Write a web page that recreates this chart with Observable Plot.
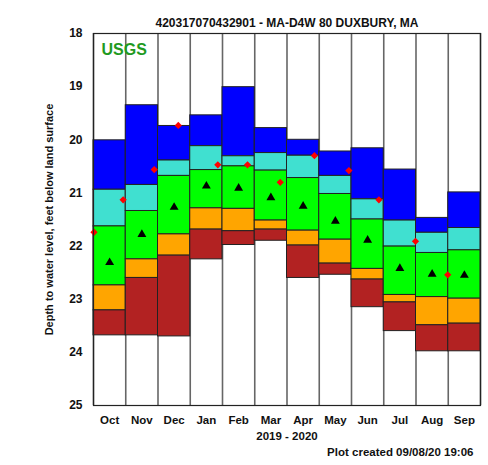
<!DOCTYPE html>
<html>
<head>
<meta charset="utf-8">
<script src="https://cdn.jsdelivr.net/npm/d3@7"></script>
<script src="https://cdn.jsdelivr.net/npm/@observablehq/plot@0.6"></script>
<style>
  html, body { margin: 0; padding: 0; background: #fff; }
  #chart svg { display: block; }
</style>
</head>
<body>
<div id="chart"></div>
<script>
// ---- Data (depth to water level, feet below land surface) ----
const months = ["Oct","Nov","Dec","Jan","Feb","Mar","Apr","May","Jun","Jul","Aug","Sep"];
// highest water level of record (shallowest depth) - top of blue
const highest = [20.01,19.35,19.74,19.54,19.01,19.78,20.00,20.22,20.16,20.56,21.47,20.99];
const pct90   = [20.94,20.85,20.39,20.12,20.31,20.25,20.30,20.68,21.12,21.52,21.75,21.66];
const pct75   = [21.63,21.34,20.68,20.57,20.50,20.58,20.72,21.02,21.50,22.01,22.13,22.08];
const pct25   = [22.74,22.25,21.78,21.29,21.30,21.52,21.71,21.88,22.43,22.92,22.96,22.99];
const pct10   = [23.21,22.60,22.18,21.69,21.72,21.69,21.99,22.33,22.63,23.06,23.49,23.46];
// lowest water level of record (deepest depth) - bottom of red
const lowest  = [23.68,23.68,23.70,22.25,21.98,21.90,22.60,22.54,23.15,23.60,23.98,23.98];
const medians = [22.31,21.78,21.27,20.87,20.91,21.09,21.25,21.53,21.89,22.42,22.53,22.55];

// measurements for water year 2019 - 2020
const measureDates  = ["2019-10-01","2019-10-29","2019-11-27","2019-12-20","2020-01-27","2020-02-23",
                       "2020-03-25","2020-04-26","2020-05-29","2020-06-26","2020-07-31","2020-08-31"];
const measureDepths = [21.74,21.13,20.56,19.73,20.47,20.47,20.80,20.30,20.58,21.13,21.91,22.54];

const yTicks = [18,19,20,21,22,23,24,25];
const bandColors = ["#0000ff","#40e0d0","#00ff00","#ffa500","#b22222"];

const titleText = "420317070432901 - MA-D4W 80 DUXBURY, MA";
const yLabel = "Depth to water level, feet below land surface";
const periodText = "2019 - 2020";
const createdText = "Plot created 09/08/20 19:06";

// ---- Derived tables ----
const bands = [];
months.forEach((m, i) => {
  const edges = [highest[i], pct90[i], pct75[i], pct25[i], pct10[i], lowest[i]];
  for (let k = 0; k < 5; k++) {
    bands.push({x1: i, x2: i + 1, y1: edges[k], y2: edges[k + 1], band: k});
  }
});
const medianData = months.map((m, i) => ({x: i + 0.5, y: medians[i]}));
const boundaries = months.map((m, i) => i).concat([months.length]);
const measures = measureDates.map((s, j) => {
  const [yy, mm, dd] = s.split("-").map(Number);
  const idx = (mm - 10 + 12) % 12;
  const dim = new Date(yy, mm, 0).getDate();
  return {x: idx + (dd - 0.5) / dim, y: measureDepths[j]};
});

const font = "'Liberation Sans', Arial, Helvetica, sans-serif";

const chart = Plot.plot({
  width: 488,
  height: 465,
  marginTop: 33,
  marginBottom: 60,
  marginLeft: 93,
  marginRight: 8,
  style: {fontFamily: font, background: "#fff", color: "#111"},
  x: {domain: [0, 12]},
  y: {domain: [18, 25], reverse: true},
  marks: [
    Plot.ruleX(boundaries, {x: d => d, stroke: "#666", strokeWidth: 1.6}),
    Plot.rect(bands, {x1: "x1", x2: "x2", y1: "y1", y2: "y2",
      fill: d => bandColors[d.band], stroke: "#222", strokeWidth: 1}),
    Plot.dot(medianData, {x: "x", y: "y", symbol: "triangle", r: 3.3, fill: "#000", stroke: "none"}),
    Plot.dot(measures, {x: "x", y: "y", symbol: "square", rotate: 45, r: 2.9, fill: "#ff0000", stroke: "none"}),
    Plot.axisY({ticks: yTicks, tickFormat: d => String(d), tickSize: 0, tickPadding: 11,
      fontSize: 12, fontWeight: "bold"}),
    Plot.axisY({ticks: [], tickSize: 0, label: yLabel, labelAnchor: "center", labelArrow: "none",
      labelOffset: 48, fontSize: 11, fontWeight: "bold"}),
    Plot.axisX({ticks: months.map((m, i) => i + 0.5), tickFormat: v => months[Math.floor(v)],
      tickSize: 0, tickPadding: 10, fontSize: 11.5, fontWeight: "bold", label: null}),
    Plot.frame({stroke: "#222", strokeWidth: 1.2}),
    Plot.text([titleText], {frameAnchor: "top", dy: -15, fontSize: 12, fontWeight: "bold", fill: "#111"}),
    Plot.text(["USGS"], {frameAnchor: "top-left", textAnchor: "start", lineAnchor: "middle",
      dx: 8, dy: 16, fontSize: 16, fontWeight: "bold", fill: "#1f9a1f"}),
    Plot.text([periodText], {frameAnchor: "bottom", dy: 34, fontSize: 11.5, fontWeight: "bold", fill: "#111"}),
    Plot.text([createdText], {frameAnchor: "bottom-right", textAnchor: "end", lineAnchor: "middle",
      dx: -7, dy: 47, fontSize: 11.5, fontWeight: "bold", fill: "#111"})
  ]
});
document.getElementById("chart").appendChild(chart);
</script>
</body>
</html>
